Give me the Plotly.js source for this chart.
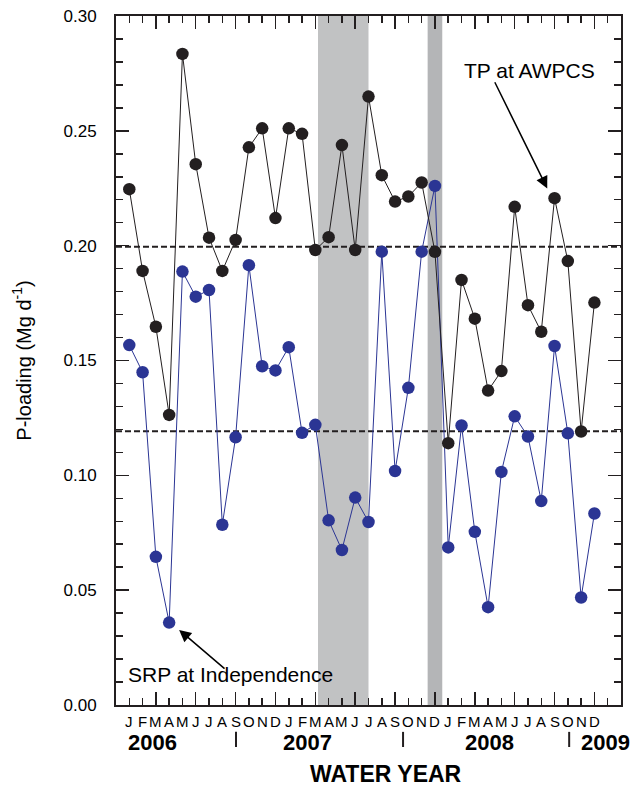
<!DOCTYPE html>
<html>
<head>
<meta charset="utf-8">
<script src="https://cdn.plot.ly/plotly-3.0.1.min.js"></script>
<style>html,body{margin:0;padding:0;background:#fff;}#chart{width:643px;height:787px;}</style>
</head>
<body>
<div id="chart"></div>
<script>
// Month index 0 = Jan 2006 ... 35 = Dec 2008
const monthLetters = ["J","F","M","A","M","J","J","A","S","O","N","D",
                      "J","F","M","A","M","J","J","A","S","O","N","D",
                      "J","F","M","A","M","J","J","A","S","O","N","D"];
const monthIndex = monthLetters.map((_, i) => i);

// TP at AWPCS (Mg/d)
const tpAWPCS = [0.2246, 0.1890, 0.1647, 0.1263, 0.2835, 0.2355, 0.2035, 0.1890, 0.2025, 0.2428, 0.2511, 0.2120,
                 0.2511, 0.2487, 0.1981, 0.2037, 0.2438, 0.1981, 0.2649, 0.2307, 0.2192, 0.2214, 0.2275, 0.1973,
                 0.1140, 0.1851, 0.1682, 0.1369, 0.1454, 0.2169, 0.1741, 0.1625, 0.2207, 0.1933, 0.1191, 0.1752];
// SRP at Independence (Mg/d)
const srpIndependence = [0.1567, 0.1449, 0.0645, 0.0359, 0.1887, 0.1778, 0.1807, 0.0785, 0.1166, 0.1915, 0.1475, 0.1457,
                         0.1558, 0.1185, 0.1220, 0.0804, 0.0675, 0.0903, 0.0797, 0.1974, 0.1019, 0.1381, 0.1974, 0.2260,
                         0.0686, 0.1217, 0.0754, 0.0426, 0.1015, 0.1257, 0.1169, 0.0888, 0.1563, 0.1183, 0.0468, 0.0834];

// reference levels (dashed)
const refLevels = [0.1995, 0.1192];
// shaded periods (month index start/end)
const bandStart = [14.2, 22.45];
const bandEnd = [18.0, 23.55];
const bandColors = ["#c1c2c3", "#b4b5b7"];
// year labels
const yearLabels = ["2006", "2007", "2008", "2009"];
const yearPos = [1.77, 13.4, 27.1, 35.8];
const yearSeparators = [8.03, 20.6, 33.1];

const FONT = "Liberation Sans, Arial, Helvetica, sans-serif";
const INK = "#231f20";
const BLUE = "#2b3594";

const traces = [
  {
    x: monthIndex, y: srpIndependence, type: "scatter", mode: "lines+markers",
    line: {color: BLUE, width: 1},
    marker: {color: BLUE, size: 12.5},
    name: "SRP at Independence", hoverinfo: "y"
  },
  {
    x: monthIndex, y: tpAWPCS, type: "scatter", mode: "lines+markers",
    line: {color: INK, width: 1},
    marker: {color: INK, size: 12.5},
    name: "TP at AWPCS", hoverinfo: "y"
  }
];

const shapes = [];
bandStart.forEach((s, i) => {
  shapes.push({type: "rect", xref: "x", yref: "paper", x0: s, x1: bandEnd[i], y0: 0, y1: 1,
               fillcolor: bandColors[i], line: {width: 0}, layer: "below"});
});
refLevels.forEach(v => {
  shapes.push({type: "line", xref: "paper", yref: "y", x0: 0, x1: 1, y0: v, y1: v,
               line: {color: INK, width: 2, dash: "6px,3px"}, layer: "below"});
});
yearSeparators.forEach(v => {
  shapes.push({type: "line", xref: "x", yref: "paper", x0: v, x1: v, y0: -0.039, y1: -0.061,
               line: {color: INK, width: 2}});
});

const annotations = [];
monthLetters.forEach((t, i) => {
  annotations.push({text: t, x: monthIndex[i], xref: "x", y: -0.0235, yref: "paper",
                    showarrow: false, font: {family: FONT, size: 15, color: "#000"},
                    xanchor: "center", yanchor: "middle"});
});
yearLabels.forEach((t, i) => {
  annotations.push({text: "<b>" + t + "</b>", x: yearPos[i], xref: "x", y: -0.0545, yref: "paper",
                    showarrow: false, font: {family: FONT, size: 22, color: "#000"},
                    xanchor: "center", yanchor: "middle"});
});
annotations.push({text: "<b>WATER YEAR</b>", x: 0.535, xref: "paper", y: -0.1, yref: "paper",
                  showarrow: false, font: {family: FONT, size: 23, color: "#000"},
                  xanchor: "center", yanchor: "middle"});
// TP label + arrow
annotations.push({text: "TP at AWPCS", x: 30.08, xref: "x", y: 0.2762, yref: "y", showarrow: false,
                  font: {family: FONT, size: 21, color: "#000"}, xanchor: "center", yanchor: "middle"});
annotations.push({text: "", x: 31.45, y: 0.2249, xref: "x", yref: "y", ax: 27.45, ay: 0.2718,
                  axref: "x", ayref: "y", showarrow: true, arrowhead: 2, arrowsize: 1.6,
                  arrowwidth: 1.5, arrowcolor: "#000"});
// SRP label + arrow
annotations.push({text: "SRP at Independence", x: 7.58, xref: "x", y: 0.0131, yref: "y", showarrow: false,
                  font: {family: FONT, size: 21, color: "#000"}, xanchor: "center", yanchor: "middle"});
annotations.push({text: "", x: 3.75, y: 0.0327, xref: "x", yref: "y", ax: 7.28, ay: 0.0153,
                  axref: "x", ayref: "y", showarrow: true, arrowhead: 2, arrowsize: 1.6,
                  arrowwidth: 1.5, arrowcolor: "#000"});

const layout = {
  width: 643, height: 787,
  margin: {l: 116, r: 22, t: 16, b: 82},
  paper_bgcolor: "#fff", plot_bgcolor: "rgba(0,0,0,0)",
  showlegend: false,
  font: {family: FONT, color: "#000"},
  xaxis: {
    range: [-1, 37], showgrid: false, zeroline: false,
    showline: true, linecolor: INK, linewidth: 2, mirror: "ticks",
    ticks: "inside", tick0: -1, dtick: 3, ticklen: 13, tickwidth: 1.5, tickcolor: INK,
    minor: {tick0: -1, dtick: 1, ticklen: 7, tickwidth: 1.5, tickcolor: INK, ticks: "inside"},
    showticklabels: false
  },
  yaxis: {
    range: [0, 0.30], showgrid: false, zeroline: false,
    showline: true, linecolor: INK, linewidth: 2, mirror: "ticks",
    ticks: "inside", tick0: 0, dtick: 0.05, ticklen: 13, tickwidth: 1.5, tickcolor: INK,
    minor: {dtick: 0.01, ticklen: 7, tickwidth: 1.5, tickcolor: INK, ticks: "inside"},
    tickformat: ".2f",
    tickfont: {family: FONT, size: 17, color: "#000"},
    ticklabelstandoff: 14,
    title: {text: "P-loading (Mg d<sup>-1</sup>)", font: {family: FONT, size: 20, color: "#000"}, standoff: 27}
  },
  shapes: shapes,
  annotations: annotations
};

Plotly.newPlot("chart", traces, layout, {staticPlot: true, displayModeBar: false});
</script>
</body>
</html>
